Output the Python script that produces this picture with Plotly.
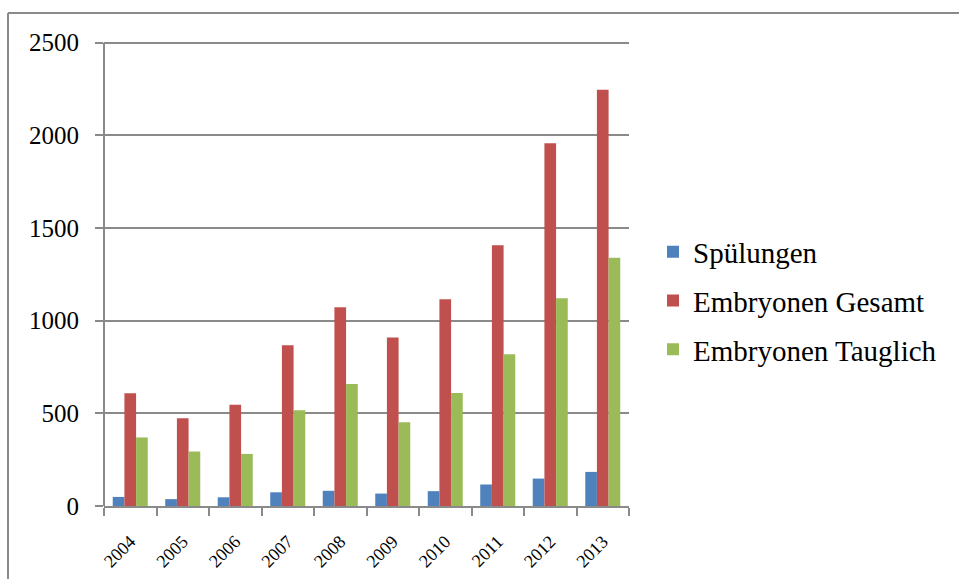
import plotly.graph_objects as go

years = ["2004", "2005", "2006", "2007", "2008", "2009", "2010", "2011", "2012", "2013"]
spuelungen = [49, 37, 47, 74, 82, 67, 80, 116, 148, 184]
embryonen_gesamt = [608, 473, 547, 867, 1072, 909, 1115, 1407, 1957, 2246]
embryonen_tauglich = [370, 294, 281, 517, 659, 452, 610, 819, 1121, 1340]
y_ticks = [0, 500, 1000, 1500, 2000, 2500]

series = [
    ("Spülungen", spuelungen, "#4F81BD"),
    ("Embryonen Gesamt", embryonen_gesamt, "#C0504D"),
    ("Embryonen Tauglich", embryonen_tauglich, "#9BBB59"),
]

W, H = 959, 579
ML, MR, MT, MB = 104, 330, 39, 73
PW, PH = W - ML - MR, H - MT - MB

def px_x(v):
    return (v - ML) / PW

def px_y(v):
    return (H - MB - v) / PH

fig = go.Figure()
for i, (name, vals, color) in enumerate(series):
    fig.add_trace(go.Bar(
        x=years, y=vals, name=name, legendgroup=str(i),
        marker=dict(color=color, line=dict(width=0)),
    ))

grey = "#8a8a8a"
font = "Liberation Serif"

# outer frame: top and left edges
fig.add_shape(type="line", xref="paper", yref="paper",
              x0=px_x(8), x1=px_x(W + 5), y0=px_y(13), y1=px_y(13),
              line=dict(color=grey, width=2))
fig.add_shape(type="line", xref="paper", yref="paper",
              x0=px_x(8), x1=px_x(8), y0=px_y(13), y1=px_y(H + 5),
              line=dict(color=grey, width=2))
# value axis line, spanning only the labelled tick range
fig.add_shape(type="line", xref="paper", yref="y",
              x0=0, x1=0, y0=y_ticks[0], y1=y_ticks[-1],
              line=dict(color=grey, width=2))

fig.update_layout(
    width=W, height=H,
    margin=dict(l=ML, r=MR, t=MT, b=MB, autoexpand=False),
    paper_bgcolor="white", plot_bgcolor="white",
    barmode="group", bargap=0.333, bargroupgap=0,
    font=dict(family=font, color="black"),
    legend=dict(
        x=px_x(653), y=px_y(301), xanchor="left", yanchor="middle",
        font=dict(family=font, size=29, color="black"),
        traceorder="grouped", tracegroupgap=8,
        bgcolor="rgba(0,0,0,0)",
    ),
    xaxis=dict(
        type="category", tickangle=-45, automargin=False,
        tickfont=dict(family=font, size=18, color="black"),
        showline=True, linecolor=grey, linewidth=2,
        ticks="outside", tickson="boundaries", ticklen=8,
        tickcolor=grey, tickwidth=2, showgrid=False,
        ticklabelstandoff=16,
    ),
    yaxis=dict(
        range=[0, 2520], tickvals=y_ticks, automargin=False,
        tickfont=dict(family=font, size=25, color="black"),
        showline=False,
        ticks="outside", ticklen=8, tickcolor=grey, tickwidth=2,
        showgrid=True, gridcolor=grey, gridwidth=1.5,
        zeroline=False, ticklabelstandoff=11,
    ),
)

fig.write_html("out.html")
